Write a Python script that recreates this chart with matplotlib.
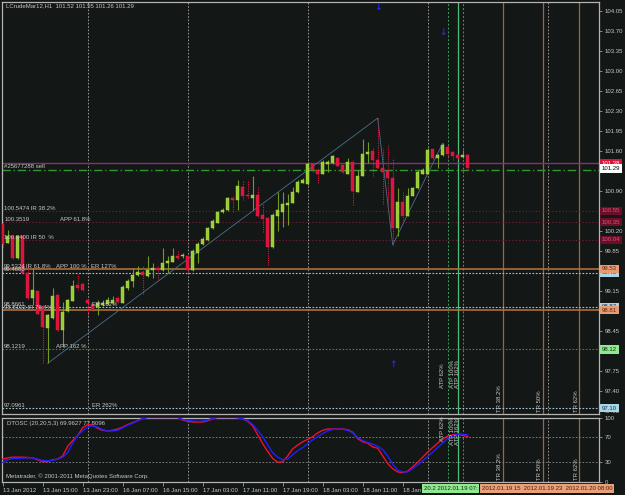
import matplotlib
matplotlib.use('Agg')
import matplotlib.pyplot as plt
import numpy as np
from matplotlib.transforms import blended_transform_factory

plt.rcParams['font.family'] = ['Liberation Sans Narrow', 'Liberation Sans', 'DejaVu Sans']

# ---------------- data ----------------
opens = [100.32, 99.99, 100.11, 99.72, 100.10, 99.46, 99.02, 99.14, 98.88, 98.49,
         98.67, 99.07, 98.46, 98.80, 98.97, 99.25, 99.26, 98.99, 98.91, 98.87,
         98.90, 98.92, 98.93, 99.02, 98.94, 99.19, 99.32, 99.42, 99.48, 99.41,
         99.51, 99.55, 99.51, 99.64, 99.66, 99.76, 99.75, 99.75, 99.51, 99.81,
         99.97, 100.04, 100.24, 100.34, 100.52, 100.56, 100.78, 100.73, 100.96, 100.83,
         100.78, 100.83, 100.48, 100.42, 99.91, 100.46, 100.53, 100.65, 100.69, 100.87,
         101.04, 101.02, 101.37, 101.27, 101.20, 101.37, 101.38, 101.47, 101.35, 101.20,
         101.41, 100.88, 101.16, 101.54, 101.59, 101.44, 101.30, 101.25, 101.13, 100.24,
         100.71, 100.46, 100.81, 100.94, 101.20, 101.20, 101.63, 101.47, 101.53, 101.67,
         101.58, 101.53, 101.49, 101.52]
highs = [100.39, 100.21, 100.12, 100.12, 100.12, 99.63, 99.54, 99.16, 98.90, 98.74,
         99.19, 99.11, 98.96, 99.00, 99.34, 99.45, 99.28, 99.02, 98.93, 98.99,
         98.99, 99.04, 99.06, 99.05, 99.25, 99.35, 99.55, 99.58, 99.58, 99.76,
         99.63, 99.58, 99.89, 99.75, 99.89, 99.86, 99.81, 99.77, 99.88, 100.00,
         100.09, 100.26, 100.40, 100.54, 100.59, 100.79, 100.81, 101.09, 101.08, 101.08,
         101.15, 100.99, 100.68, 100.44, 100.51, 100.88, 100.88, 100.85, 100.97, 101.09,
         101.12, 101.40, 101.39, 101.30, 101.44, 101.44, 101.52, 101.49, 101.37, 101.48,
         101.43, 101.26, 101.80, 101.75, 101.67, 102.17, 101.64, 101.70, 101.47, 100.94,
         100.90, 100.94, 100.97, 101.26, 101.30, 101.64, 101.65, 101.54, 101.73, 101.69,
         101.60, 101.54, 101.61, 101.55]
lows = [99.91, 99.98, 99.70, 99.70, 99.44, 99.00, 98.90, 98.74, 97.88, 97.88,
        98.65, 98.44, 98.17, 98.78, 98.97, 99.16, 99.14, 98.72, 98.79, 98.72,
        98.88, 98.90, 98.92, 98.93, 98.93, 99.16, 99.22, 99.41, 99.10, 99.39,
        99.37, 99.34, 99.49, 99.46, 99.65, 99.70, 99.72, 99.47, 99.49, 99.63,
        99.95, 100.02, 100.23, 100.33, 100.51, 100.55, 100.52, 100.56, 100.73, 100.77,
        100.56, 100.44, 100.17, 99.60, 99.90, 100.20, 100.27, 100.30, 100.69, 100.86,
        101.04, 101.00, 101.23, 101.03, 101.19, 101.23, 101.37, 101.33, 101.21, 101.19,
        100.65, 100.88, 101.16, 101.38, 101.15, 101.30, 100.66, 100.59, 99.95, 100.10,
        100.39, 100.46, 100.81, 100.93, 101.19, 101.19, 101.46, 101.29, 101.51, 101.47,
        101.44, 101.46, 101.47, 101.26]
closes = [99.97, 100.10, 99.72, 100.10, 99.46, 99.02, 99.17, 98.75, 98.52, 98.72,
          99.06, 98.46, 98.78, 98.99, 99.23, 99.20, 99.16, 98.93, 98.81, 98.94,
          98.94, 98.99, 98.99, 98.96, 99.22, 99.32, 99.42, 99.48, 99.42, 99.51,
          99.54, 99.51, 99.63, 99.67, 99.76, 99.72, 99.77, 99.51, 99.85, 99.97,
          100.05, 100.24, 100.37, 100.52, 100.57, 100.77, 100.74, 100.98, 100.81, 100.80,
          100.83, 100.45, 100.40, 99.91, 100.48, 100.56, 100.67, 100.69, 100.87, 101.06,
          101.09, 101.37, 101.27, 101.19, 101.41, 101.41, 101.50, 101.34, 101.22, 101.40,
          100.90, 101.16, 101.54, 101.58, 101.44, 101.30, 101.23, 101.12, 100.24, 100.71,
          100.46, 100.81, 100.94, 101.23, 101.26, 101.61, 101.47, 101.53, 101.70, 101.55,
          101.51, 101.47, 101.53, 101.29]

osc_main = [35, 37, 38, 38, 38, 37.5, 37, 34, 31, 31,
            34, 35, 40, 55, 64, 72, 84, 89, 88, 83,
            80, 79, 80, 82, 85, 89, 92, 95, 99, 100,
            100, 100, 100, 100, 100, 100, 96, 94, 93, 93,
            93, 95, 98, 100, 100, 100, 100, 100, 98, 94,
            87, 73, 59, 47, 36, 30, 31, 40, 51, 57,
            62, 66, 70, 76, 80, 82, 82, 82, 82, 81,
            77, 67, 62, 60, 54, 52, 40, 28, 20, 15,
            14, 16, 23, 30, 38, 46, 53, 60, 66, 71,
            73, 74, 72, 70]
osc_signal = [30, 34, 36, 36, 36.5, 37, 37, 35, 33, 32.5,
              33, 35, 38, 45, 60, 72, 79, 85, 87, 85,
              81, 79, 79, 80, 84, 88, 91, 95, 98, 100,
              100, 100, 100, 100, 100, 100, 97, 95.5, 94.5, 94,
              94.5, 96, 99, 100, 100, 100, 100, 99.5, 98, 95,
              89, 80, 70, 57, 45, 38, 34, 35, 42, 48,
              53, 59, 65, 70, 75, 79, 81.5, 81.5, 81.5, 80,
              76, 69, 64, 61, 58.5, 55, 50, 40, 27, 18,
              15, 15, 20, 26, 32, 39, 46, 53, 60, 67.5,
              71, 74, 74, 72.8]

price_ticks = [104.05, 103.70, 103.35, 103.00, 102.65, 102.30, 101.95, 101.60, 101.25,
               100.90, 100.55, 100.20, 99.85, 99.50, 99.15, 98.80, 98.45, 98.10,
               97.75, 97.40, 97.05]
osc_ticks = [0, 30, 70, 100]
time_idx = [0, 8, 16, 24, 32, 40, 48, 56, 64, 72, 80]
time_labels = ['13 Jan 2012', '13 Jan 15:00', '13 Jan 23:00', '16 Jan 07:00', '16 Jan 15:00',
               '17 Jan 03:00', '17 Jan 11:00', '17 Jan 19:00', '18 Jan 03:00', '18 Jan 11:00',
               '18 Jan 19:00']
day_breaks = [17, 37, 61, 85, 109]

# zigzag / trend line
zz_idx = [9, 75, 78, 88]
zz_price = [97.88, 102.17, 99.95, 101.73]

# horizontal levels
order_level = 101.38
tp_level = 101.26
ir_levels = [100.5474, 100.3519, 100.04]
orange_levels = [99.53, 98.81]
blue_levels = [99.46, 98.8661, 97.0961]
green_level = 98.1219

# vertical projection lines
atp_x = [89, 91, 92]
atp_names = ['ATP 62%', 'ATP 100%', 'ATP 162%']
tr_x = [100, 108, 115.3]
tr_names = ['TR 38.2%', 'TR 50%', 'TR 62%']

# ---------------- styling ----------------
BG = '#131715'
FG = '#c8c8c8'
FS = 4.3
W, H = 625, 495


def rect(l, t, r, b):
    return [l / W, (H - b) / H, (r - l) / W, (b - t) / H]


fig = plt.figure(figsize=(W / 100, H / 100), dpi=100, facecolor=BG)
ax = fig.add_axes(rect(2, 2, 599, 414), facecolor=BG)
axo = fig.add_axes(rect(2, 417.5, 599, 481.5), facecolor=BG)

for a in (ax, axo):
    a.set_xlim(-0.14, 119.26)
    for s in a.spines.values():
        s.set_color('#b4b4b4')
        s.set_linewidth(0.9)
    a.yaxis.tick_right()
    a.tick_params(axis='y', colors='#9a9a9a', labelcolor=FG, labelsize=FS,
                  length=2, width=0.6, pad=2)
    for gx in day_breaks:
        a.axvline(gx, color='#a8a8a8', lw=0.6, ls=(0, (2, 2)), zorder=1)
    a.axvline(atp_x[0], color='#3aa05a', lw=0.7, ls=(0, (2, 2)), zorder=1)
    a.axvline(atp_x[1], color='#4cc07a', lw=0.9, zorder=1)
    a.axvline(atp_x[2], color='#3aa05a', lw=0.7, ls=(0, (2, 2)), zorder=1)
    for tx in tr_x:
        a.axvline(tx, color='#a8603a', lw=0.9, zorder=1)

# ---- main panel ----
ax.set_ylim(96.992, 104.202)
ax.set_yticks(price_ticks)
ax.set_yticklabels(['%.2f' % p for p in price_ticks])
ax.set_xticks([])

ax.axhline(order_level, color='#8a2c7e', lw=1.0, zorder=2)
ax.axhline(tp_level, color='#2f9a2f', lw=1.0, dashes=(6, 2, 1, 2), zorder=2)
for p in ir_levels:
    ax.axhline(p, color='#7a1e3a', lw=0.8, ls=(0, (1, 2)), zorder=2)
for p in orange_levels:
    ax.axhline(p, color='#b8743f', lw=1.1, zorder=2)
for p in blue_levels:
    ax.axhline(p, color='#a9c6d6', lw=0.8, ls=(0, (1.5, 1.5)), zorder=2)
ax.axhline(green_level, color='#3d8a3d', lw=0.8, ls=(0, (1.5, 1.5)), zorder=2)

ax.plot(zz_idx, zz_price, color='#4e6f8e', lw=0.6, zorder=2)

o = np.array(opens); h = np.array(highs); l = np.array(lows); c = np.array(closes)
idx = np.arange(len(o))
up = c >= o
dn = ~up
ax.vlines(idx[up], l[up], h[up], color='#6f9a26', lw=0.8, zorder=3)
ax.vlines(idx[dn], l[dn], h[dn], color='#d81840', lw=0.8, ls=(0, (1, 1)), zorder=3)
ax.bar(idx[up], np.maximum((c - o)[up], 0.015), bottom=o[up], width=0.62,
       color='#9acd32', edgecolor='#b0dd55', lw=0.3, zorder=4)
ax.bar(idx[dn], np.maximum((o - c)[dn], 0.015), bottom=c[dn], width=0.62,
       color='#dc143c', edgecolor='#e8204a', lw=0.3, zorder=4)

# texts
ax.text(0.006, 0.99, 'LCrudeMar12,H1  101.52 101.55 101.26 101.29', transform=ax.transAxes,
        color=FG, fontsize=FS, va='center', ha='left')
ax.text(0.3, 101.33, '#25677288 sell', color=FG, fontsize=FS, va='center', ha='left', zorder=6)
lbl = dict(color=FG, fontsize=FS, va='bottom', ha='left', zorder=6)
ax.text(0.3, 100.5474, '100.5474 IR 38.2%', **lbl)
ax.text(0.3, 100.3519, '100.3519', **lbl)
ax.text(11.5, 100.3519, 'APP 61.8%', **lbl)
ax.text(0.3, 100.04, '100.0400 IR 50  %', **lbl)
ax.text(0.3, 99.53, '99.5324', **lbl)
ax.text(0.3, 99.47, '99.4688', **lbl)
ax.text(4.7, 99.53, 'IR 61.8%', **lbl)
ax.text(10.7, 99.53, 'APP 100 %', **lbl)
ax.text(17.7, 99.53, 'ER 127%', **lbl)
ax.text(0.3, 98.8661, '98.8661', **lbl)
ax.text(0.3, 98.81, '98.8102 IR 76.4%', **lbl)
ax.text(17.9, 98.8661, 'ER 162%', **lbl)
ax.text(0.3, 98.1219, '98.1219', **lbl)
ax.text(10.7, 98.1219, 'APP 162 %', **lbl)
ax.text(0.3, 97.0961, '97.0961', **lbl)
ax.text(17.9, 97.0961, 'ER 262%', **lbl)

arrow = dict(color='#2626ff', fontsize=6.5, ha='center', va='center',
             family=['DejaVu Sans'], zorder=7, fontweight='bold')
ax.text(75, 104.10, '\u2193', **arrow)
ax.text(88, 103.66, '\u2193', **arrow)
ax.text(78, 97.85, '\u2191', **arrow)

vt = dict(color=FG, fontsize=FS, rotation=90, ha='center', zorder=6)
for x, name in zip(atp_x, atp_names):
    ax.text(x - 1.0, 97.45, name, va='bottom', **vt)
    axo.text(x - 1.0, 101, name, va='top', **vt)
for x, name in zip(tr_x, tr_names):
    ax.text(x - 0.6, 97.02, name, va='bottom', **vt)
    axo.text(x - 0.6, 3, name, va='bottom', **vt)

# right-axis price boxes
tb = blended_transform_factory(ax.transAxes, ax.transData)
boxes = [(101.38, '101.38', '#dc143c', '#ffffff'),
         (101.29, '101.29', '#ffffff', '#000000'),
         (100.5474, '100.55', '#6a0f2a', '#e05070'),
         (100.3519, '100.35', '#6a0f2a', '#e05070'),
         (100.04, '100.04', '#6a0f2a', '#e05070'),
         (99.46, '99.46', '#a9d6e6', '#203040'),
         (99.53, '99.53', '#e99a72', '#5a2a10'),
         (98.8661, '98.87', '#a9d6e6', '#203040'),
         (98.81, '98.81', '#e99a72', '#5a2a10'),
         (98.1219, '98.12', '#90e890', '#103010'),
         (97.0961, '97.10', '#a9d6e6', '#203040')]
for p, t, fc, tc in boxes:
    ax.text(1.005, p, t, transform=tb, color=tc, fontsize=FS, va='center', ha='left',
            clip_on=False, zorder=20,
            bbox=dict(boxstyle='square,pad=0.3', fc=fc, ec='none'))

# ---- oscillator panel ----
axo.set_ylim(0, 100)
axo.set_yticks(osc_ticks)
axo.set_yticklabels([str(v) for v in osc_ticks])
for v in (30, 70):
    axo.axhline(v, color='#8a8a8a', lw=0.6, ls=(0, (2, 2)), zorder=1)
axo.plot(idx, osc_main, color='#f0102e', lw=1.0, zorder=4)
axo.plot(idx, osc_signal, color='#2020ff', lw=1.0, zorder=5)
axo.text(0.008, 0.91, 'DTOSC (20,20,5,3) 69.9627 72.8096', transform=axo.transAxes,
         color=FG, fontsize=FS, va='center', ha='left')
axo.text(0.006, 0.086, 'Metatrader, \u00a9 2001-2011 MetaQuotes Software Corp.',
         transform=axo.transAxes, color=FG, fontsize=FS, va='center', ha='left')
axo.set_xticks(time_idx)
axo.set_xticklabels(time_labels, ha='left')
axo.tick_params(axis='x', colors='#9a9a9a', labelcolor=FG, labelsize=FS,
                length=3, width=0.6, pad=1.5)

# bottom time boxes (future projections)
fig.text(424 / W, 1 - 488.5 / H, '20.2 2012.01.19 07:', color='#103010', fontsize=FS,
         va='center', ha='left', zorder=20,
         bbox=dict(boxstyle='square,pad=0.3', fc='#90e890', ec='none'))
fig.text(482 / W, 1 - 488.5 / H, '2012.01.19 15  2012.01.19 23  2012.01.20 08:00',
         color='#4a2010', fontsize=FS, va='center', ha='left', zorder=20,
         bbox=dict(boxstyle='square,pad=0.3', fc='#e8a078', ec='none'))

fig.savefig('out.png', dpi=100, facecolor=BG)
